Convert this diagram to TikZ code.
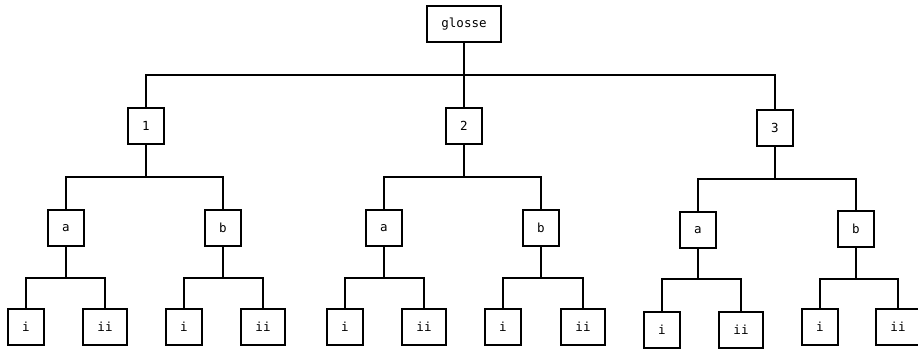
\documentclass[tikz,border=0pt]{standalone}
\usepackage{fontspec}
\setmonofont{DejaVu Sans Mono}
\begin{document}
\begin{tikzpicture}[x=1pt,y=-1pt,
  box/.style={draw,line width=2pt,inner sep=0pt,minimum height=36pt,
    font=\ttfamily\fontsize{12.5}{14}\selectfont},
  small/.style={box,minimum width=36pt},
  wide/.style={box,minimum width=44pt},
  link/.style={line width=2pt}]
\useasboundingbox (0,0) rectangle (918,349);

% root
\node[box,minimum width=74pt] (g) at (464,24) {glosse};

% first level
\node[small] (n1) at (146,126) {1};
\node[small] (n2) at (464,126) {2};
\node[small] (n3) at (775,128) {3};

% second level
\node[small] (n1a) at (66,228) {a};
\node[small] (n1b) at (223,228) {b};
\node[small] (n2a) at (384,228) {a};
\node[small] (n2b) at (541,228) {b};
\node[small] (n3a) at (698,230) {a};
\node[small] (n3b) at (856,229) {b};

% leaves
\node[small] (l1ai) at (26,327) {i};
\node[wide]  (l1aii) at (105,327) {ii};
\node[small] (l1bi) at (184,327) {i};
\node[wide]  (l1bii) at (263,327) {ii};
\node[small] (l2ai) at (345,327) {i};
\node[wide]  (l2aii) at (424,327) {ii};
\node[small] (l2bi) at (503,327) {i};
\node[wide]  (l2bii) at (583,327) {ii};
\node[small] (l3ai) at (662,330) {i};
\node[wide]  (l3aii) at (741,330) {ii};
\node[small] (l3bi) at (820,327) {i};
\node[wide]  (l3bii) at (898,327) {ii};

% connectors: stem down from parent, bar across, drop to child
\foreach \c in {n1,n2,n3}
  \draw[link] (g.south) -- ++(0,32) -| (\c.north);
\foreach \p in {n1,n2,n3}
  \foreach \s in {a,b}
    \draw[link] (\p.south) -- ++(0,32) -| (\p\s.north);
\foreach \p in {1a,1b,2a,2b,3b}
  \foreach \s in {i,ii}
    \draw[link] (n\p.south) -- ++(0,31) -| (l\p\s.north);
\foreach \s in {i,ii}
  \draw[link] (n3a.south) -- ++(0,30) -| (l3a\s.north);
\end{tikzpicture}
\end{document}
